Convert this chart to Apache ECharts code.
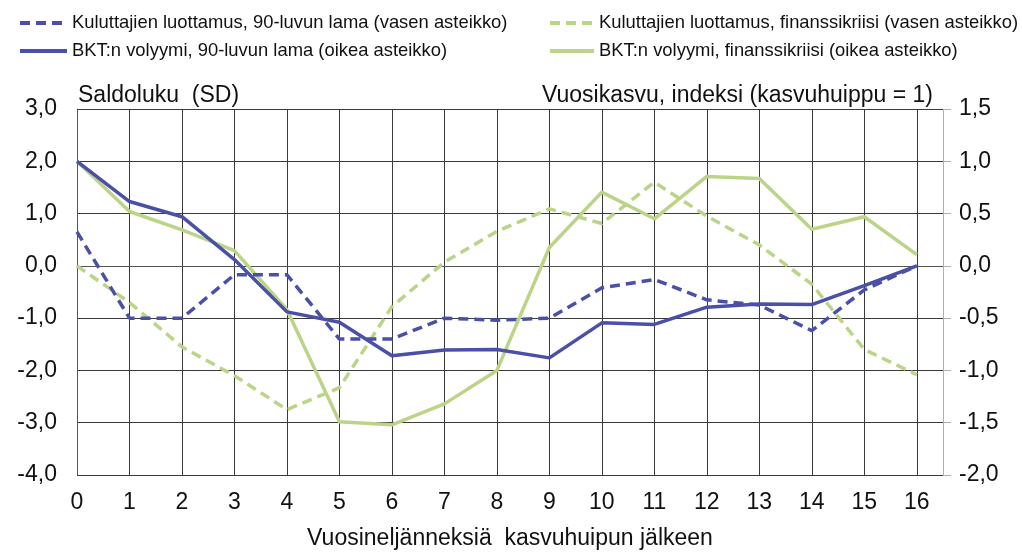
<!DOCTYPE html>
<html>
<head>
<meta charset="utf-8">
<script src="https://cdn.jsdelivr.net/npm/echarts@6/dist/echarts.min.js"></script>
<style>html,body{margin:0;padding:0;background:#fff}#c{width:1022px;height:555px}</style>
</head>
<body>
<div id="c"></div>
<script>
var quarters = [0,1,2,3,4,5,6,7,8,9,10,11,12,13,14,15,16];
// Left axis (saldoluku, SD)
var luottamus90 = [0.65,-1.0,-1.0,-0.17,-0.17,-1.4,-1.4,-1.0,-1.04,-1.0,-0.42,-0.26,-0.65,-0.75,-1.24,-0.46,0.0];
var luottamusFin = [0.0,-0.7,-1.55,-2.1,-2.75,-2.33,-0.78,0.07,0.66,1.09,0.81,1.6,0.95,0.4,-0.35,-1.6,-2.08];
// Right axis (vuosikasvu, indeksi)
var bkt90 = [1.0,0.615,0.47,0.06,-0.44,-0.54,-0.86,-0.805,-0.8,-0.88,-0.545,-0.56,-0.395,-0.365,-0.37,-0.19,0.0];
var bktFin = [1.0,0.52,0.345,0.145,-0.42,-1.49,-1.52,-1.32,-1.0,0.175,0.705,0.45,0.855,0.835,0.35,0.47,0.107];

var names = [
  'Kuluttajien luottamus, 90-luvun lama (vasen asteikko)',
  'Kuluttajien luottamus, finanssikriisi (vasen asteikko)',
  'BKT:n volyymi, 90-luvun lama (oikea asteikko)',
  'BKT:n volyymi, finanssikriisi (oikea asteikko)'
];
var BLUE = '#4a50a8', GREEN = '#bcd488';
var FONT = 'Liberation Sans, Arial, sans-serif';
var NOSYM = 'rgba(0,0,0,0)';
function pair(arr){ return quarters.map(function(q,i){ return [q, arr[i]]; }); }
function comma(v){ return v.toFixed(1).replace('.', ','); }

var chart = echarts.init(document.getElementById('c'), null, {renderer:'canvas'});
var gridColors = [];
for (var i = 0; i < 17; i++) gridColors.push('#3a3a3a');
gridColors.push('#b0b0b0');

var legendText = {fontFamily: FONT, fontSize: 18.4, color: '#111'};
chart.setOption({
  animation: false,
  textStyle: {fontFamily: FONT},
  title: [
    {text: 'Saldoluku  (SD)', left: 73, top: 79, textStyle: {fontFamily: FONT, fontSize: 23, fontWeight: 'normal', color: '#111'}},
    {text: 'Vuosikasvu, indeksi (kasvuhuippu = 1)', right: 84, top: 79, textStyle: {fontFamily: FONT, fontSize: 23, fontWeight: 'normal', color: '#111'}}
  ],
  legend: [
    {orient: 'vertical', left: 13, top: 9, itemWidth: 47, itemHeight: 20, itemGap: 10,
     itemStyle: {opacity: 0, color: NOSYM, borderWidth: 0}, lineStyle: {width: 4},
     data: [names[0], names[2]], textStyle: legendText},
    {orient: 'vertical', left: 543, top: 9, itemWidth: 44, itemHeight: 20, itemGap: 10,
     itemStyle: {opacity: 0, color: NOSYM, borderWidth: 0}, lineStyle: {width: 4},
     data: [names[1], names[3]], textStyle: legendText}
  ],
  grid: {left: 77, right: 79, top: 109, bottom: 75, containLabel: false},
  xAxis: {
    type: 'value', min: 0, max: 16.5, interval: 1,
    name: 'Vuosineljänneksiä  kasvuhuipun jälkeen', nameLocation: 'middle', nameGap: 52,
    nameTextStyle: {fontFamily: FONT, fontSize: 23, color: '#111'},
    axisLine: {show: true, lineStyle: {color: '#555', width: 1}},
    axisTick: {show: false},
    axisLabel: {fontFamily: FONT, fontSize: 23, color: '#111', margin: 16, showMaxLabel: false,
      formatter: function(v){ return (Math.round(v) === v) ? String(v) : ''; }},
    splitLine: {show: true, lineStyle: {color: gridColors, width: 1}}
  },
  yAxis: [
    {type: 'value', min: -4, max: 3, interval: 1, position: 'left',
     axisLine: {show: true, lineStyle: {color: '#555'}}, axisTick: {show: false},
     axisLabel: {fontFamily: FONT, fontSize: 23, color: '#111', margin: 20, formatter: comma},
     splitLine: {show: true, lineStyle: {color: '#3a3a3a', width: 1}}},
    {type: 'value', min: -2, max: 1.5, interval: 0.5, position: 'right',
     axisLine: {show: false}, axisTick: {show: true, length: 8, lineStyle: {color: '#b0b0b0'}},
     axisLabel: {fontFamily: FONT, fontSize: 23, color: '#111', margin: 16, formatter: comma},
     splitLine: {show: false}}
  ],
  series: [
    {name: names[0], type: 'line', yAxisIndex: 0, data: pair(luottamus90), symbol: 'none',
     lineStyle: {color: BLUE, width: 3.5, type: [10, 6]}, itemStyle: {color: NOSYM}, z: 4},
    {name: names[1], type: 'line', yAxisIndex: 0, data: pair(luottamusFin), symbol: 'none',
     lineStyle: {color: GREEN, width: 3.5, type: [10, 6]}, itemStyle: {color: NOSYM}, z: 2},
    {name: names[2], type: 'line', yAxisIndex: 1, data: pair(bkt90), symbol: 'none',
     lineStyle: {color: BLUE, width: 3.5}, itemStyle: {color: NOSYM}, z: 5},
    {name: names[3], type: 'line', yAxisIndex: 1, data: pair(bktFin), symbol: 'none',
     lineStyle: {color: GREEN, width: 3.5}, itemStyle: {color: NOSYM}, z: 3}
  ]
});
</script>
</body>
</html>
